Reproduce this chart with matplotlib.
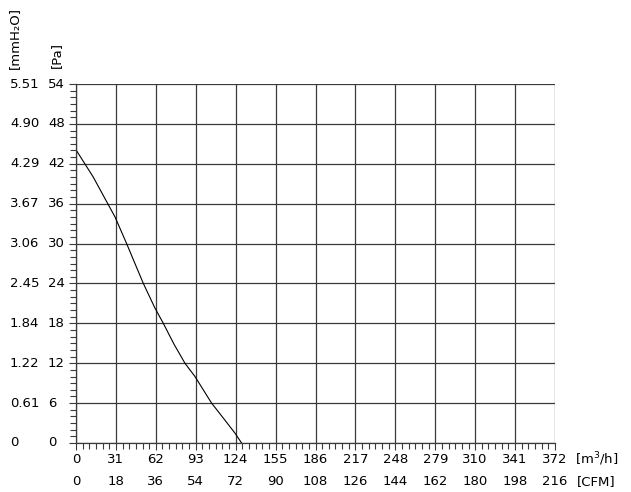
import numpy as np
import matplotlib.pyplot as plt
from matplotlib.ticker import MultipleLocator
import matplotlib.transforms as mtransforms

# fan curve: flow in m3/h, pressure in Pa
flow = [0, 13.4, 30.3, 39.3, 46.0, 52.3, 61.3, 67.8, 76.0, 84.6, 92.4, 105.3, 115.0, 123.4, 128.6]
pressure = [44.1, 40.0, 34.0, 30.0, 26.9, 24.0, 20.3, 18.0, 14.9, 12.0, 10.0, 6.0, 3.6, 1.5, 0.0]

m3h_ticks = [0, 31, 62, 93, 124, 155, 186, 217, 248, 279, 310, 341, 372]
cfm_labels = ['0', '18', '36', '54', '72', '90', '108', '126', '144', '162', '180', '198', '216']
pa_ticks = [0, 6, 12, 18, 24, 30, 36, 42, 48, 54]
mmh2o_labels = ['0', '0.61', '1.22', '1.84', '2.45', '3.06', '3.67', '4.29', '4.90', '5.51']

fs = 9.5
grid_c = '#3a3a3a'

fig = plt.figure(figsize=(6.31, 4.92), dpi=100)
ax = fig.add_axes([76 / 631, 49 / 492, 479 / 631, 359 / 492])

ax.plot(flow, pressure, color='black', lw=0.8)

ax.set_xlim(0, 372)
ax.set_ylim(0, 54)
ax.set_xticks(m3h_ticks)
ax.set_yticks(pa_ticks)
ax.xaxis.set_minor_locator(MultipleLocator(31 / 6))
ax.yaxis.set_minor_locator(MultipleLocator(1))
ax.grid(True, which='major', color=grid_c, lw=0.9)
ax.tick_params(which='both', direction='out', color=grid_c, labelleft=False,
               labelbottom=False, width=0.8)
ax.tick_params(which='major', length=5)
ax.tick_params(which='minor', length=4)
for side in ['top', 'right']:
    ax.spines[side].set_visible(False)
for side in ['left', 'bottom']:
    ax.spines[side].set_color(grid_c)
    ax.spines[side].set_linewidth(0.9)

ytr = mtransforms.blended_transform_factory(ax.transAxes, ax.transData)
for v, lab in zip(pa_ticks, mmh2o_labels):
    ax.text(-0.0585, v, str(v), transform=ytr, ha='left', va='center', fontsize=fs)
    ax.text(-0.1378, v, lab, transform=ytr, ha='left', va='center', fontsize=fs)

xtr = mtransforms.blended_transform_factory(ax.transData, ax.transAxes)
for v, lab in zip(m3h_ticks, cfm_labels):
    ax.text(v, -0.0446, str(v), transform=xtr, ha='center', va='center', fontsize=fs)
    ax.text(v, -0.106, lab, transform=xtr, ha='center', va='center', fontsize=fs)

ax.text(1.042, -0.0446, '[m$^3$/h]', transform=ax.transAxes, ha='left', va='center', fontsize=fs)
ax.text(1.046, -0.106, '[CFM]', transform=ax.transAxes, ha='left', va='center', fontsize=fs)
ax.text(-0.129, 1.128, '[mmH\u2082O]', transform=ax.transAxes, rotation=90,
        ha='center', va='center', fontsize=fs)
ax.text(-0.0418, 1.081, '[Pa]', transform=ax.transAxes, rotation=90,
        ha='center', va='center', fontsize=fs)

fig.savefig('out.png', dpi=100)
